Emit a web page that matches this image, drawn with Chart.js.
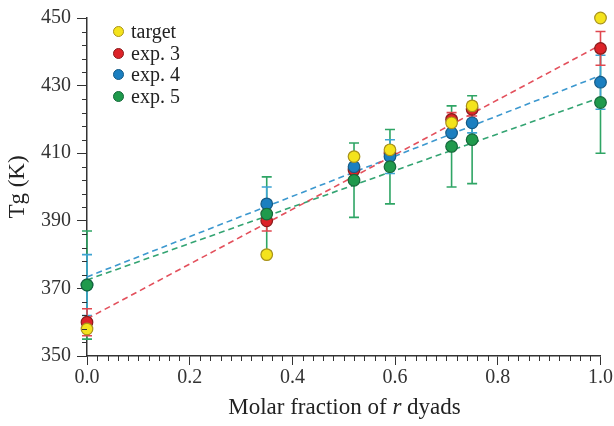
<!DOCTYPE html>
<html>
<head>
<meta charset="utf-8">
<script src="https://cdn.jsdelivr.net/npm/chart.js@4.4.1/dist/chart.umd.min.js"></script>
<style>
  html, body { margin: 0; padding: 0; background: #fff; }
  #wrap { position: relative; width: 614px; height: 426px; font-family: "Liberation Serif", "DejaVu Serif", serif; color: #222; }
  #legend { position: absolute; left: 113px; top: 21px; font-size: 20px; line-height: 21px; }
  .lrow { display: flex; align-items: center; height: 21.5px; }
  .ldot { width: 11px; height: 11px; border-radius: 50%; margin-right: 7px; box-sizing: border-box; border: 1.5px solid; }
  #xtitle { position: absolute; left: 87px; width: 515px; top: 394px; text-align: center; font-size: 23px; line-height: 26px; }
</style>
</head>
<body>
<div id="wrap">
  <canvas id="chart" width="614" height="426"></canvas>
  <div id="legend"></div>
  <div id="xtitle">Molar fraction of <i>r</i> dyads</div>
</div>
<script>
/* ── Datos ── */
const fraccion = [0, 0.35, 0.52, 0.59, 0.71, 0.75, 1.0];
const target   = [358, 380, 409, 411, 419, 424, 450];
const exp3     = [360, 390, 405, 410, 420, 423, 441];
const exp4     = [371, 395, 406, 409, 416, 419, 431];
const exp5     = [371, 392, 402, 406, 412, 414, 425];
const err3     = [4, 3, 3, 2, 2, 2, 5];
const err4     = [9, 5, 3, 5, 3, 3, 8];
const err5     = [16, 11, 11, 11, 12, 13, 15];

/* rectas de ajuste (extremos) */
const ajusteX  = [0, 1];
const ajuste3  = [361, 442];
const ajuste4  = [373.4, 433];
const ajuste5  = [372.5, 426.5];

const yTicks   = [350, 370, 390, 410, 430, 450];

/* ── Estilos ── */
const col = {
  target: { fill: "#f4e31c", edge: "#a8921a" },
  exp3:   { fill: "#dd2329", edge: "#8a1c1c", line: "#e3505c", err: "#e0474f" },
  exp4:   { fill: "#1b7fc0", edge: "#155a85", line: "#3c98cf", err: "#3ea3d2" },
  exp5:   { fill: "#1f9a4c", edge: "#16683a", line: "#33a472", err: "#2fa565" },
};

const pts = ys => fraccion.map((x, i) => ({ x, y: ys[i] }));
const recta = ys => ajusteX.map((x, i) => ({ x, y: ys[i] }));

// order menor = se dibuja encima
function puntos(label, ys, c, order) {
  return {
    label, data: pts(ys), showLine: false, order,
    backgroundColor: c.fill, borderColor: c.edge, borderWidth: 1.2,
    pointRadius: 5.8, clip: false,
  };
}
function linea(ys, c) {
  return {
    data: recta(ys), showLine: true, pointRadius: 0, order: 10,
    borderColor: c.line, borderWidth: 1.6, borderDash: [6, 4],
    fill: false, clip: false,
  };
}

/* ── Barras de error (a través de las escalas) ── */
const errores = [
  { ys: exp5, es: err5, color: col.exp5.err },
  { ys: exp4, es: err4, color: col.exp4.err },
  { ys: exp3, es: err3, color: col.exp3.err },
];
const pluginErrores = {
  id: "errores",
  beforeDatasetsDraw(chart) {
    const { ctx, scales: { x, y } } = chart;
    ctx.save();
    ctx.lineWidth = 1.6;
    errores.forEach(s => {
      ctx.strokeStyle = s.color;
      fraccion.forEach((fx, i) => {
        const px = x.getPixelForValue(fx);
        const top = y.getPixelForValue(s.ys[i] + s.es[i]);
        const bot = y.getPixelForValue(s.ys[i] - s.es[i]);
        ctx.beginPath();
        ctx.moveTo(px, top); ctx.lineTo(px, bot);
        ctx.moveTo(px - 5, top); ctx.lineTo(px + 5, top);
        ctx.moveTo(px - 5, bot); ctx.lineTo(px + 5, bot);
        ctx.stroke();
      });
    });
    ctx.restore();
  },
};

/* ── Ticks menores ── */
const pluginMenores = {
  id: "menores",
  afterDraw(chart) {
    const { ctx, scales: { x, y }, chartArea: a } = chart;
    ctx.save();
    ctx.strokeStyle = "#333";
    ctx.lineWidth = 1;
    ctx.beginPath();
    for (let k = 1; k < 50; k++) {
      if (k % 10 === 0) continue;
      const px = Math.round(x.getPixelForValue(k / 50)) + 0.5;
      ctx.moveTo(px, a.bottom); ctx.lineTo(px, a.bottom + 5);
    }
    for (let v = 354; v < 450; v += 4) {
      if ((v - 350) % 20 === 0) continue;
      const py = Math.round(y.getPixelForValue(v)) + 0.5;
      ctx.moveTo(a.left, py); ctx.lineTo(a.left - 5, py);
    }
    ctx.stroke();
    ctx.restore();
  },
};

const fuente = { family: "'Liberation Serif', 'DejaVu Serif', serif", size: 20 };

new Chart(document.getElementById("chart"), {
  type: "scatter",
  data: {
    datasets: [
      puntos("target", target, col.target, 0),
      puntos("exp. 3", exp3, col.exp3, 3),
      puntos("exp. 4", exp4, col.exp4, 2),
      puntos("exp. 5", exp5, col.exp5, 1),
      linea(ajuste3, col.exp3),
      linea(ajuste4, col.exp4),
      linea(ajuste5, col.exp5),
    ],
  },
  options: {
    responsive: false,
    animation: false,
    layout: { padding: { top: 14, right: 12, left: 0, bottom: 0 } },
    plugins: { legend: { display: false }, tooltip: { enabled: false } },
    scales: {
      x: {
        type: "linear", min: 0, max: 1,
        afterFit: s => { s.height = 70; },
        border: { color: "#333", width: 1.5 },
        grid: { drawOnChartArea: false, tickLength: 9, color: "#333" },
        ticks: {
          stepSize: 0.2, color: "#333", font: fuente, padding: 1,
          callback: v => v.toFixed(1),
        },
      },
      y: {
        min: 350, max: 450,
        afterFit: s => { s.width = 87; },
        afterBuildTicks: s => { s.ticks = yTicks.map(value => ({ value })); },
        border: { color: "#333", width: 1.5 },
        grid: { drawOnChartArea: false, tickLength: 10, color: "#333" },
        ticks: { color: "#333", font: fuente, padding: 6 },
        title: { display: true, text: "Tg (K)", color: "#222", font: { ...fuente, size: 23 }, padding: { top: 4, bottom: 0 } },
      },
    },
  },
  plugins: [pluginErrores, pluginMenores],
});

/* ── Leyenda ── */
const leyenda = [["target", col.target], ["exp. 3", col.exp3], ["exp. 4", col.exp4], ["exp. 5", col.exp5]];
document.getElementById("legend").innerHTML = leyenda.map(([t, c]) =>
  `<div class="lrow"><span class="ldot" style="background:${c.fill};border-color:${c.edge}"></span>${t}</div>`
).join("");
</script>
</body>
</html>
